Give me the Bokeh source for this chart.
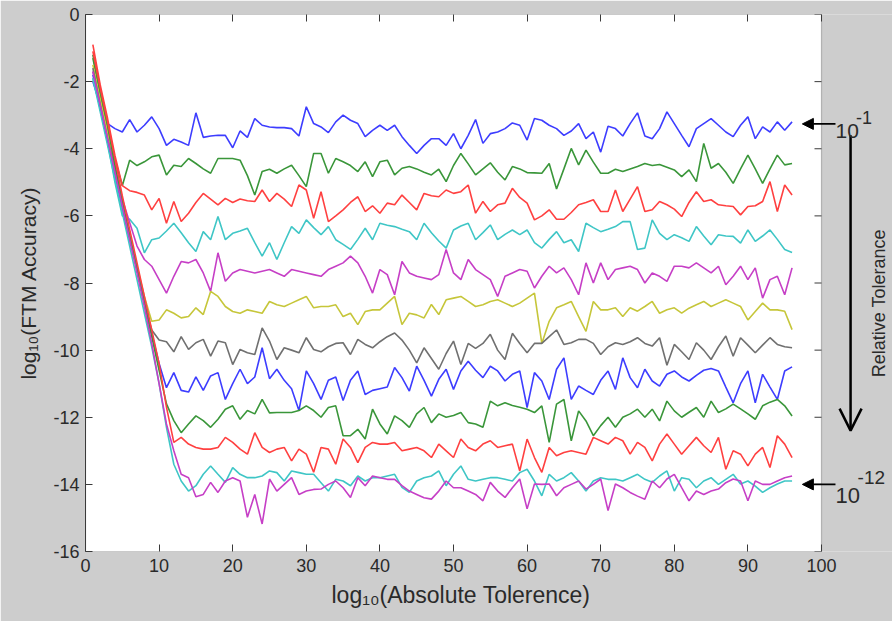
from bokeh.plotting import figure
from bokeh.models import (Range1d, FixedTicker, LinearAxis, CustomJSTickFormatter,
                          Label, Arrow, NormalHead, OpenHead, BoxAnnotation, Title)
from bokeh.embed import file_html
from bokeh.resources import INLINE

# ---------------- data ----------------
abs_tol = list(range(1, 97))

blue_1 = [-2.0, -2.7, -3.25, -3.4, -3.5, -3.13, -3.5, -3.3, -3.05, -3.4, -3.9, -3.72, -3.8, -3.9, -2.93, -3.66,
          -3.62, -3.6, -3.6, -3.97, -3.47, -3.66, -3.1, -3.3, -3.35, -3.37, -3.37, -3.4, -3.62, -2.75, -3.25, -3.35,
          -3.52, -3.2, -3.0, -3.15, -3.25, -3.64, -3.45, -3.3, -3.45, -3.3, -3.64, -3.9, -4.14, -3.9, -3.7, -3.7,
          -3.9, -3.55, -4.0, -3.6, -3.13, -3.84, -3.55, -3.5, -3.4, -3.23, -3.3, -3.74, -3.1, -3.15, -3.3, -3.4,
          -3.6, -3.47, -3.25, -3.7, -3.5, -4.1, -3.33, -3.4, -3.62, -3.25, -2.93, -3.62, -3.7, -3.4, -2.9, -3.25,
          -3.6, -3.94, -3.4, -3.25, -3.1, -3.3, -3.5, -3.64, -3.3, -3.05, -3.7, -3.35, -3.5, -3.2, -3.45, -3.2]

green_1 = [-1.3, -2.4, -3.4, -4.3, -5.1, -4.34, -4.5, -4.39, -4.24, -4.19, -4.78, -4.49, -4.53, -4.29, -4.44, -4.6,
           -4.73, -4.29, -4.29, -4.29, -4.34, -4.8, -5.38, -4.68, -4.61, -4.73, -4.6, -4.49, -4.8, -5.13, -4.14, -4.14,
           -4.73, -4.29, -4.39, -4.5, -4.68, -4.39, -4.83, -4.39, -4.34, -4.78, -4.58, -4.53, -4.6, -4.7, -4.78, -4.61,
           -4.98, -4.5, -4.14, -4.45, -4.78, -4.6, -4.42, -4.7, -4.93, -4.53, -4.6, -4.71, -4.72, -4.73, -4.44, -5.2,
           -4.6, -3.99, -4.48, -4.04, -4.4, -4.73, -4.73, -4.61, -4.68, -4.6, -4.53, -4.44, -4.5, -4.47, -4.55, -4.63,
           -4.83, -4.63, -4.98, -3.84, -4.58, -4.44, -4.7, -5.03, -4.6, -4.19, -4.6, -5.03, -4.6, -4.19, -4.48, -4.44]

red_1 = [-0.9, -2.1, -3.1, -4.2, -5.1, -5.25, -5.3, -5.38, -5.82, -5.48, -6.22, -5.57, -6.17, -5.92, -5.6, -5.33,
         -5.5, -5.67, -5.48, -5.6, -5.5, -5.55, -5.57, -5.23, -5.57, -5.33, -5.5, -5.72, -5.08, -5.23, -6.07, -5.28,
         -6.17, -6.0, -5.82, -5.6, -5.43, -5.87, -5.7, -5.92, -5.62, -5.67, -5.38, -5.6, -5.82, -5.33, -5.4, -5.43,
         -5.23, -5.33, -5.28, -5.08, -5.92, -5.57, -5.87, -5.67, -5.62, -5.18, -5.45, -5.62, -6.12, -6.0, -5.82, -6.1,
         -6.1, -5.9, -5.67, -5.6, -5.52, -5.87, -5.87, -5.23, -5.87, -5.5, -5.13, -5.87, -5.82, -5.57, -5.67, -5.8,
         -6.02, -5.6, -5.28, -5.57, -5.52, -5.67, -5.7, -5.72, -5.97, -5.72, -5.7, -5.57, -4.98, -5.87, -5.08, -5.38]

cyan_1 = [-1.9, -2.8, -3.8, -5.0, -6.0, -6.1, -6.37, -7.1, -6.71, -6.66, -6.45, -6.22, -6.5, -6.8, -7.06, -6.47,
          -6.71, -6.02, -6.71, -6.52, -6.45, -6.37, -6.8, -7.2, -6.8, -7.3, -6.8, -6.32, -6.52, -6.12, -6.35, -6.56,
          -6.32, -6.71, -6.85, -7.0, -6.7, -6.37, -6.71, -6.22, -6.28, -6.32, -6.4, -6.47, -6.71, -6.22, -6.5, -6.75,
          -6.96, -6.42, -6.3, -6.22, -6.71, -6.5, -6.27, -6.71, -6.55, -6.42, -6.56, -6.42, -6.8, -6.96, -6.7, -6.47,
          -6.8, -6.71, -7.06, -6.22, -6.35, -6.47, -6.4, -6.32, -6.17, -6.17, -7.0, -6.96, -6.12, -6.52, -6.71, -6.56,
          -6.65, -6.76, -6.32, -6.6, -6.86, -6.56, -6.6, -6.61, -6.81, -6.42, -6.76, -6.6, -6.42, -6.7, -7.0, -7.09]

magenta_1 = [-1.7, -2.6, -3.6, -4.5, -5.5, -6.2, -6.9, -7.3, -7.5, -7.9, -8.3, -7.8, -7.36, -7.4, -7.3, -7.7,
             -8.25, -7.1, -7.95, -7.7, -7.6, -7.65, -7.7, -7.65, -7.6, -7.7, -7.8, -7.6, -7.65, -7.7, -7.75, -7.8,
             -7.6, -7.5, -7.4, -7.2, -7.4, -7.8, -8.3, -7.6, -7.75, -8.35, -7.36, -7.7, -7.8, -7.85, -7.9, -7.75,
             -7.0, -7.7, -7.9, -7.3, -7.6, -7.75, -7.9, -8.4, -7.8, -7.7, -7.6, -7.65, -8.15, -7.8, -7.5, -7.7,
             -7.55, -7.9, -8.35, -7.4, -8.0, -7.4, -7.9, -7.6, -7.55, -7.5, -7.6, -8.0, -7.7, -7.8, -7.95, -7.5,
             -7.5, -7.55, -7.4, -7.55, -7.7, -7.5, -8.05, -7.8, -7.5, -7.9, -7.55, -8.45, -7.9, -7.8, -8.35, -7.55]

yellow_1 = [-1.5, -2.5, -3.5, -4.6, -5.7, -6.6, -7.5, -8.4, -9.14, -9.1, -8.8, -8.9, -9.04, -9.0, -8.74, -8.94,
            -8.25, -8.4, -8.7, -8.85, -8.9, -8.8, -8.85, -8.9, -8.55, -8.65, -8.7, -8.6, -8.5, -8.4, -8.74, -8.7,
            -8.7, -8.65, -9.0, -8.9, -9.24, -8.85, -8.8, -8.8, -8.6, -8.4, -9.24, -8.9, -8.95, -9.04, -8.64, -8.94,
            -8.5, -8.45, -8.4, -8.55, -8.7, -8.65, -8.55, -8.5, -8.6, -8.7, -8.6, -8.45, -8.3, -9.8, -9.14, -8.74,
            -8.65, -8.55, -9.0, -9.44, -8.55, -8.8, -8.8, -8.74, -9.0, -8.74, -8.84, -8.7, -8.55, -8.9, -8.8, -8.74,
            -8.9, -8.75, -8.65, -8.55, -8.7, -8.6, -8.5, -8.6, -8.7, -9.1, -8.85, -8.6, -8.8, -8.8, -8.84, -9.39]

black_1 = [-1.6, -2.7, -3.7, -4.6, -5.6, -6.6, -7.6, -8.6, -9.4, -9.7, -9.75, -10.05, -9.6, -9.98, -9.78, -9.68,
           -10.18, -9.73, -9.78, -10.43, -9.98, -10.08, -10.13, -9.34, -9.73, -10.28, -9.93, -10.0, -10.08, -9.63, -9.98, -10.05,
           -9.9, -9.8, -9.78, -10.13, -9.68, -9.83, -9.93, -9.75, -9.6, -9.49, -9.7, -10.0, -10.38, -9.93, -10.25, -10.57,
           -10.1, -9.73, -10.43, -9.8, -9.95, -9.8, -9.53, -10.0, -10.28, -9.5, -9.8, -10.08, -9.8, -9.8, -9.6, -9.4,
           -9.83, -9.78, -9.68, -9.68, -9.8, -10.13, -9.9, -9.78, -9.83, -9.75, -9.63, -9.8, -9.88, -9.63, -10.45, -9.83,
           -10.05, -10.28, -9.78, -10.0, -10.28, -9.9, -9.58, -10.18, -9.63, -9.85, -10.08, -9.85, -9.63, -9.83, -9.9, -9.93]

blue_2 = [-1.8, -2.8, -3.8, -4.8, -5.8, -6.7, -7.6, -8.6, -9.5, -10.4, -11.12, -10.67, -11.2, -11.25, -10.8, -11.2,
          -10.77, -10.67, -11.47, -11.0, -10.57, -11.0, -10.8, -9.93, -10.85, -10.57, -10.9, -11.15, -11.8, -10.62, -11.0, -11.47,
          -10.9, -10.8, -11.5, -10.9, -10.62, -11.32, -11.2, -11.15, -11.1, -10.52, -10.82, -11.22, -10.48, -10.9, -11.37, -10.87,
          -10.57, -11.17, -10.62, -10.33, -10.6, -10.82, -10.48, -10.62, -10.92, -10.72, -10.62, -11.71, -10.67, -10.92, -11.47, -10.57,
          -10.23, -11.47, -11.07, -11.2, -11.32, -10.9, -10.62, -11.17, -10.23, -10.82, -11.12, -10.57, -10.92, -11.07, -10.72, -10.62,
          -10.8, -10.92, -10.75, -10.6, -10.55, -10.62, -11.1, -11.57, -11.0, -10.62, -11.57, -10.72, -11.1, -11.47, -10.62, -10.5]

green_2 = [-1.2, -2.3, -3.3, -4.5, -5.6, -6.6, -7.6, -8.6, -9.6, -10.6, -11.6, -12.1, -12.46, -12.2, -11.96, -12.1,
           -12.3, -12.06, -11.76, -11.66, -12.06, -11.8, -11.9, -11.47, -11.87, -11.86, -11.86, -11.86, -11.8, -11.66, -11.8, -12.0,
           -11.71, -11.66, -12.55, -12.55, -12.36, -12.65, -11.76, -12.2, -12.5, -11.96, -12.1, -12.3, -11.9, -11.71, -12.16, -11.9,
           -12.0, -11.95, -11.86, -12.16, -12.2, -12.3, -11.52, -11.66, -11.57, -11.65, -11.7, -11.76, -11.86, -11.66, -12.75, -11.61,
           -11.47, -12.7, -11.81, -12.11, -12.55, -12.25, -12.0, -12.3, -12.0, -11.9, -11.76, -12.0, -11.76, -12.11, -11.52, -11.81,
           -12.0, -11.85, -11.71, -12.0, -11.52, -11.86, -11.75, -11.61, -11.75, -11.9, -12.06, -11.66, -11.55, -11.47, -11.66, -11.96]

red_2 = [-1.1, -2.2, -3.2, -4.3, -5.4, -6.4, -7.4, -8.4, -9.4, -10.4, -11.7, -12.75, -12.6, -12.8, -12.9, -12.95,
         -12.95, -12.9, -12.6, -12.75, -12.95, -13.1, -12.46, -12.9, -13.05, -12.95, -12.9, -13.3, -12.95, -13.1, -13.64, -12.9,
         -12.95, -13.4, -12.65, -12.9, -13.35, -12.9, -12.75, -12.8, -12.8, -12.75, -13.0, -12.95, -12.9, -13.0, -13.2, -12.8,
         -13.0, -13.2, -12.65, -12.9, -13.0, -12.8, -12.7, -12.9, -12.85, -12.8, -13.6, -12.65, -13.2, -13.64, -12.9, -13.15,
         -13.05, -13.0, -13.05, -13.1, -12.6, -12.7, -12.8, -12.6, -12.7, -13.1, -12.75, -12.9, -13.3, -12.8, -12.5, -12.8,
         -13.1, -12.85, -12.6, -12.85, -13.05, -12.6, -13.55, -13.0, -13.1, -13.45, -13.1, -12.9, -13.5, -12.55, -12.8, -13.2]

cyan_2 = [-1.9, -2.9, -3.9, -4.9, -5.9, -6.9, -7.9, -8.9, -9.9, -11.0, -12.3, -13.4, -13.9, -14.2, -14.04, -13.7,
          -13.45, -13.7, -13.94, -13.5, -13.7, -13.8, -13.8, -13.75, -13.6, -13.65, -13.9, -13.6, -13.65, -13.7, -13.7, -13.95,
          -14.2, -13.85, -13.9, -14.04, -13.75, -13.9, -13.8, -13.8, -13.75, -13.7, -14.09, -14.24, -13.9, -13.8, -13.75, -13.6,
          -14.04, -13.7, -13.45, -13.85, -13.9, -13.85, -13.8, -13.8, -13.85, -13.9, -13.65, -13.55, -13.9, -14.34, -13.7, -13.9,
          -13.8, -13.65, -13.9, -14.2, -13.9, -13.8, -13.85, -13.85, -13.9, -13.8, -13.7, -13.85, -13.94, -13.75, -13.6, -14.2,
          -13.8, -13.85, -14.1, -13.9, -13.8, -14.0, -13.85, -13.7, -13.99, -13.9, -14.05, -14.24, -14.1, -13.99, -13.9, -13.9]

magenta_2 = [-1.7, -2.7, -3.7, -4.7, -5.7, -6.7, -7.7, -8.7, -9.8, -11.0, -12.2, -13.0, -13.7, -13.8, -14.37, -14.3,
             -13.94, -14.24, -13.9, -13.8, -13.9, -14.98, -14.3, -15.18, -13.84, -14.2, -14.0, -13.8, -14.3, -14.2, -14.15, -14.14,
             -14.0, -13.9, -14.1, -14.39, -13.8, -14.04, -13.75, -13.8, -13.85, -13.85, -14.04, -14.2, -14.3, -14.4, -14.44, -14.2,
             -13.9, -14.1, -14.1, -14.2, -14.3, -14.49, -13.94, -14.2, -14.39, -14.1, -13.84, -14.73, -13.99, -14.0, -13.99, -14.34,
             -14.1, -14.0, -13.9, -14.14, -14.0, -13.84, -14.78, -13.99, -14.1, -14.24, -14.35, -14.44, -13.9, -14.1, -13.84, -13.7,
             -14.1, -14.49, -14.2, -14.3, -14.2, -14.14, -13.95, -13.84, -13.9, -14.49, -13.9, -14.0, -14.0, -13.9, -13.8, -13.75]

series = [blue_1, green_1, red_1, cyan_1, magenta_1, yellow_1, black_1,
          blue_2, green_2, red_2, cyan_2, magenta_2]
series_colors = ["#3d3dff", "#3a963a", "#ff4040", "#3fc6c6", "#c63fc6", "#c6c63a", "#707070",
                 "#3d3dff", "#3a963a", "#ff4040", "#3fc6c6", "#c63fc6"]

x_ticks = [0, 10, 20, 30, 40, 50, 60, 70, 80, 90, 100]
y_ticks = [-16, -14, -12, -10, -8, -6, -4, -2, 0]
y_tick_labels = ["-16", "-14", "-12", "-10", "-8", "-6", "-4", "-2", "0"]

# relative-tolerance marker levels (start / end of the sweep)
rel_tol_top, rel_tol_bottom = -3.26, -14.0

# ---------------- figure ----------------
BG = "#cdcdcd"
AX = "#3a3a3a"
TXT = "#2a2a2a"
FONT = "Liberation Sans"
X_MIN, X_MAX, Y_MIN, Y_MAX = 0, 100, -16, 0
FRAME_W, BOX_W = 807, 736            # frame also holds the annotation strip at the right
X_VIEW = X_MAX * FRAME_W / BOX_W

p = figure(frame_width=FRAME_W, frame_height=537, output_backend="svg", toolbar_location=None,
           x_range=Range1d(X_MIN, X_VIEW), y_range=Range1d(Y_MIN, Y_MAX),
           min_border_left=85, min_border_right=0, min_border_top=14, min_border_bottom=70)
p.background_fill_color = BG
p.border_fill_color = BG
p.outline_line_color = None
p.grid.visible = False

# the white axes box
p.add_layout(BoxAnnotation(left=X_MIN, right=X_MAX, bottom=Y_MIN, top=Y_MAX,
                           fill_color="white", fill_alpha=1.0,
                           line_color=AX, line_width=1.2, level="underlay"))

for ys, col in zip(series, series_colors):
    p.line(abs_tol, ys, line_color=col, line_width=1.6)

for ax in (p.xaxis[0], p.yaxis[0]):
    ax.major_tick_line_color = AX
    ax.major_tick_in = 7
    ax.major_tick_out = 0
    ax.minor_tick_line_color = None
    ax.major_label_text_font = FONT
    ax.major_label_text_color = TXT
    ax.axis_label_text_font = FONT
    ax.axis_label_text_font_style = "normal"
    ax.axis_label_text_color = TXT

p.xaxis[0].axis_line_color = None
p.xaxis[0].ticker = FixedTicker(ticks=x_ticks)
p.xaxis[0].major_label_text_font_size = "18px"
p.xaxis[0].major_label_standoff = 7

p.yaxis[0].axis_line_color = AX
p.yaxis[0].ticker = FixedTicker(ticks=y_ticks)
p.yaxis[0].major_label_overrides = dict(zip(y_ticks, y_tick_labels))
p.yaxis[0].major_label_text_font_size = "18px"
p.yaxis[0].major_label_standoff = 6
p.yaxis[0].axis_label = "log\u2081\u2080(FTM Accuracy)"
p.yaxis[0].axis_label_text_font_size = "21px"
p.yaxis[0].axis_label_standoff = 10

# x-axis title, placed under the white box (not centred on the whole frame)
p.add_layout(Title(text="log\u2081\u2080(Absolute Tolerence)", align="left", offset=246,
                   text_font=FONT, text_font_size="23px", text_font_style="normal",
                   text_color=TXT, standoff=10), "below")

top_ax = LinearAxis(ticker=FixedTicker(ticks=x_ticks), formatter=CustomJSTickFormatter(code="return ''"))
top_ax.axis_line_color = None
top_ax.major_tick_line_color = AX
top_ax.major_tick_in = 7
top_ax.major_tick_out = 0
top_ax.minor_tick_line_color = None
top_ax.major_label_standoff = 0
top_ax.major_label_text_font_size = "1px"
p.add_layout(top_ax, "above")

# inward ticks on the right-hand box edge
p.segment(x0=[X_MAX - 0.95] * len(y_ticks), y0=y_ticks, x1=[X_MAX] * len(y_ticks), y1=y_ticks,
          line_color=AX, line_width=1)

# ---------------- relative tolerance annotation ----------------
for lvl in (rel_tol_top, rel_tol_bottom):
    p.add_layout(Arrow(end=NormalHead(size=11, fill_color="black", line_color="black"),
                       x_start=101.9, y_start=lvl, x_end=97.4, y_end=lvl,
                       line_color="black", line_width=1.6))
p.add_layout(Arrow(end=OpenHead(size=22, line_color="black", line_width=2.5),
                   x_start=103.95, y_start=-3.6, x_end=103.95, y_end=-12.4,
                   line_color="black", line_width=2.5))

p.add_layout(Label(x=101.9, y=-3.46, text="10", text_font=FONT, text_font_size="21px",
                   text_color=TXT, text_baseline="alphabetic"))
p.add_layout(Label(x=104.7, y=-3.07, text="-1", text_font=FONT, text_font_size="18px",
                   text_color=TXT, text_baseline="alphabetic"))
p.add_layout(Label(x=101.9, y=-14.33, text="10", text_font=FONT, text_font_size="22px",
                   text_color=TXT, text_baseline="alphabetic"))
p.add_layout(Label(x=104.9, y=-13.79, text="-12", text_font=FONT, text_font_size="19px",
                   text_color=TXT, text_baseline="alphabetic"))
p.add_layout(Label(x=107.8, y=-8.6, text="Relative Tolerance", angle=1.5708, text_font=FONT,
                   text_font_size="18px", text_color=TXT,
                   text_align="center", text_baseline="middle"))

open("out.html", "w").write(file_html(p, INLINE))
